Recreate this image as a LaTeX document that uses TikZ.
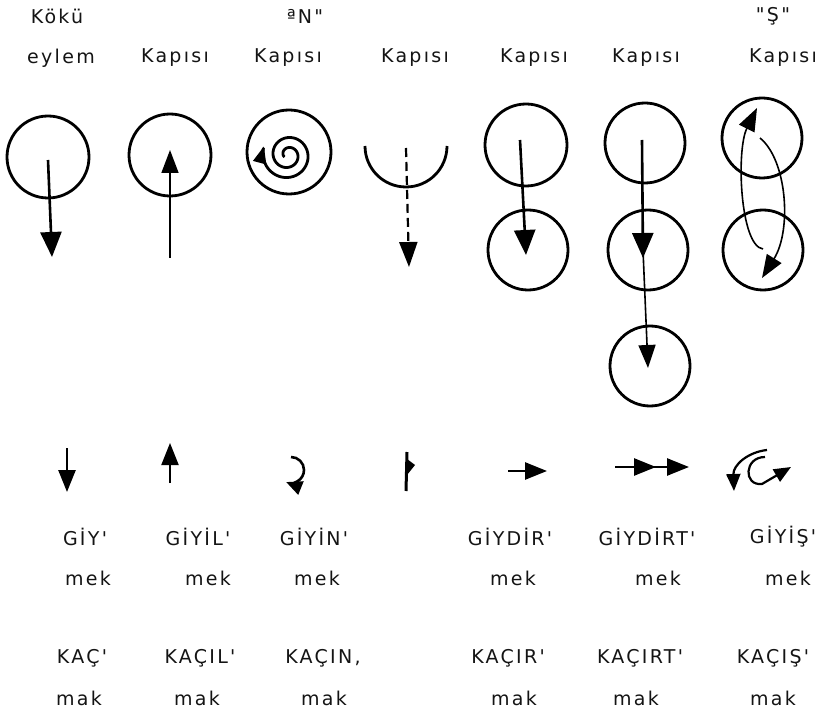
\documentclass[tikz,border=0pt]{standalone}
\usepackage{fontspec}
\newfontfamily\kapifont{DejaVu Sans}[LetterSpace=12]
\usetikzlibrary{arrows.meta}

\begin{document}
\begin{tikzpicture}[x=1pt, y=-1pt,
    lbl/.style={font=\kapifont\fontsize{19}{22}\selectfont, text=black!92, inner sep=0pt},
    ring/.style={line width=2.8pt},
    shaft/.style={line width=2.6pt, -{Triangle[width=21pt,length=25pt]}},
    thinshaft/.style={line width=1.6pt, -{Triangle[width=17pt,length=23pt]}},
    mini/.style={line width=2.6pt, -{Triangle[width=17pt,length=22pt]}}]
  \useasboundingbox (0,0) rectangle (822,711);

  % headings
  \node[lbl] (koku) at (57,16) {Kökü};
  \node[lbl] (enHead) at (305,16) {ªN"};
  \node[lbl] (shHead) at (773,16) {"Ş"};
  \node[lbl] (eylem) at (61,58) {eylem};
  \foreach \x [count=\i] in {175,288,415,534,646,783}
    \node[lbl] (kapi\i) at (\x,58) {Kapısı};

  % gates
  \draw[ring] (48,157) circle (41);
  \draw[shaft] (48,160) -- (52,257);
  \draw[ring] (170,155) circle (41);
  \draw[thinshaft] (170,258) -- (170,150);
  \draw[ring] (289,152) circle (42);
  \draw[line width=2.8pt, -{Triangle[width=13pt,length=17pt]}]
    plot[domain=150:920, samples=160, smooth]
    ({288+(4+21*(\x-150)/750)*cos(\x)}, {155+(4+21*(\x-150)/750)*sin(\x)});
  \draw[ring] (447,146) arc (0:180:41);
  \draw[line width=2.2pt, dash pattern=on 9pt off 5pt, -{Triangle[width=18pt,length=25pt]}]
    (406,148) -- (409,267);
  \draw[ring] (526,145) circle (41) (528,250) circle (40);
  \draw[shaft] (520,140) -- (526,255);
  \draw[ring] (645,143) circle (40) (648,250) circle (40) (650,366) circle (40);
  \draw[shaft] (642,140) -- (643,258);
  \draw[thinshaft] (643,250) -- (648,368);
  \draw[ring] (762,138) circle (40) (763,250) circle (40);
  \draw[thinshaft] (763,249) .. controls (740,246) and (736,150) .. (757,108);
  \draw[thinshaft] (760,138) .. controls (787,160) and (792,230) .. (762,278);

  % small signs
  \draw[mini] (67,448) -- (67,492);
  \draw[mini, line width=2pt] (170,483) -- (170,443);
  \draw[mini, -{Triangle[width=14pt,length=16pt]}] (291,457) arc (270:472:13);
  \draw[line width=3pt] (407,452) -- (406,491);
  \fill (407,459) -- (415,465) -- (407,475) -- cycle;
  \draw[mini] (508,471) -- (547,471);
  \draw[mini] (615,467) -- (656,467);
  \draw[mini] (645,467) -- (689,467);
  \draw[mini, line width=2.2pt, -{Triangle[width=14pt,length=17pt]}]
    (767,450) .. controls (748,452) and (733,465) .. (734,491);
  \draw[mini, line width=2.2pt, -{Triangle[width=14pt,length=17pt]}]
    (765,457) .. controls (744,457) and (743,486) .. (762,484) -- (791,467);

  % verbs
  \foreach \x/\w [count=\i] in {85/GİY',198/GİYİL',314/GİYİN',510/GİYDİR',647/GİYDİRT',783/GİYİŞ'}
    \node[lbl] (giy\i) at (\x,537) {\w};
  \foreach \x [count=\i] in {88,208,317,513,658,788}
    \node[lbl] (mek\i) at (\x,578) {mek};
  \foreach \x/\w [count=\i] in {82/KAÇ',200/KAÇIL',323/{KAÇIN,},508/KAÇIR',640/KAÇIRT',773/KAÇIŞ'}
    \node[lbl] (kac\i) at (\x,658) {\w};
  \foreach \x [count=\i] in {79,197,324,514,636,773}
    \node[lbl] (mak\i) at (\x,698) {mak};
\end{tikzpicture}
\end{document}
